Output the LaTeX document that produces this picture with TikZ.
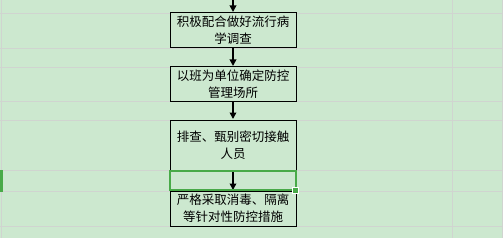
\documentclass[tikz,border=0pt]{standalone}
\usepackage{fontspec}
\setmainfont{Noto Sans CJK SC}
\usetikzlibrary{arrows.meta}
\definecolor{bgcol}{RGB}{204,232,207}
\definecolor{gridcol}{RGB}{208,212,208}
\definecolor{selgreen}{RGB}{72,170,72}
\tikzset{
  flowbox/.style={draw=black, line width=1pt, fill=bgcol, minimum width=126pt, inner sep=0pt,
    text width=124pt, align=center, font=\fontsize{12.5}{17.4}\selectfont},
  flowarrow/.style={line width=1.8pt, -{Triangle[length=6.5pt,width=6.5pt]}, black, shorten >=0.5pt},
  gridline/.style={draw=gridcol, line width=0.9pt}
}
\begin{document}
\begin{tikzpicture}[x=1pt,y=-1pt]
\fill[bgcol] (0,0) rectangle (503,238);
\useasboundingbox (0,0) rectangle (503,238);
% grid
\foreach \yy in {13.3,48.7,67.3,101.3,120.3,170.3,191.3,226.3}
  \draw[gridline] (0,\yy) -- (503,\yy);
\foreach \xx in {1.3,452.3,502}
  \draw[gridline] (\xx,0) -- (\xx,238);
% boxes
\node[flowbox, minimum height=35pt] (b1) at (233,30.5) {积极配合做好流行病\\学调查};
\node[flowbox, minimum height=34pt] (b2) at (233,84) {以班为单位确定防控\\管理场所};
\node[flowbox, minimum height=50pt] (b3) at (233,145) {排查、甄别密切接触\\人员};
\node[flowbox, minimum height=35pt] (b4) at (233,208.5) {严格采取消毒、隔离\\等针对性防控措施};
\coordinate (top) at (233,0);
% arrows
\draw[flowarrow] (top) -- (b1.north);
\draw[flowarrow] (b1.south) -- (b2.north);
\draw[flowarrow] (b2.south) -- (b3.north);
\draw[flowarrow] (b3.south) -- (b4.north);
% selection
\draw[selgreen, line width=2.3pt] (170.1,171.2) rectangle (295.9,189.8);
\fill[white] (292,187) rectangle (299,194.2);
\fill[selgreen] (293.3,188.3) rectangle (297.8,192.9);
\fill[selgreen] (0,170) rectangle (2.5,191.5);
\end{tikzpicture}
\end{document}
